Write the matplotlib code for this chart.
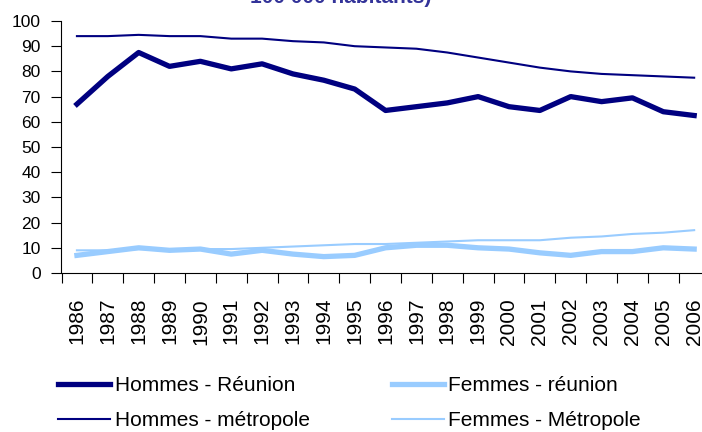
import matplotlib
matplotlib.use('Agg')
import matplotlib.pyplot as plt

plt.rcParams['font.family'] = ['Liberation Sans', 'DejaVu Sans']

# values
years = [str(y) for y in range(1986, 2007)]
hommes_reunion = [67, 78, 87.5, 82, 84, 81, 83, 79, 76.5, 73, 64.5, 66, 67.5, 70, 66, 64.5, 70, 68, 69.5, 64, 62.5]
femmes_reunion = [7, 8.5, 10, 9, 9.5, 7.5, 9, 7.5, 6.5, 7, 10, 11, 11, 10, 9.5, 8, 7, 8.5, 8.5, 10, 9.5]
hommes_metro = [94, 94, 94.5, 94, 94, 93, 93, 92, 91.5, 90, 89.5, 89, 87.5, 85.5, 83.5, 81.5, 80, 79, 78.5, 78, 77.5]
femmes_metro = [9, 9, 9.5, 9.5, 9.5, 9.5, 10, 10.5, 11, 11.5, 11.5, 12, 12.5, 13, 13, 13, 14, 14.5, 15.5, 16, 17]

navy = '#000080'
light = '#99ccff'

fig = plt.figure(figsize=(7.02, 4.32), dpi=100)
ax = fig.add_axes([61.5/702, 1 - 273/432, (709.6 - 61.5)/702, (273 - 21)/432])

x = range(len(years))
ax.plot(x, hommes_reunion, color=navy, lw=3.8, label='Hommes - Réunion', solid_joinstyle='round')
ax.plot(x, hommes_metro, color=navy, lw=1.5, label='Hommes - métropole')
ax.plot(x, femmes_reunion, color=light, lw=3.8, label='Femmes - réunion', solid_joinstyle='round')
ax.plot(x, femmes_metro, color=light, lw=1.5, label='Femmes - Métropole')

ax.set_xlim(-0.5, len(years) - 0.5)
ax.set_ylim(0, 100)
ax.set_yticks(range(0, 101, 10))
# tick marks between categories, labels centred on them
ax.set_xticks([i - 0.5 for i in range(len(years) + 1)], minor=False)
ax.set_xticklabels([])
ax.set_xticks(list(x), minor=True)
ax.set_xticklabels(years, minor=True, rotation=90, fontsize=15)
ax.tick_params(axis='x', which='major', length=7, direction='out', color='black')
ax.tick_params(axis='x', which='minor', length=0, pad=18)
ax.tick_params(axis='y', length=7, labelsize=12.5, pad=8)
for s in ['top', 'right']:
    ax.spines[s].set_visible(False)

fig.text(341/702, 1 - 3/432, '100 000 habitants)', ha='center', va='baseline',
         fontsize=15, fontweight='bold', color='#333399')

fig.legend(loc='upper left', bbox_to_anchor=(50/702, 1 - 368/432), ncol=2, frameon=False,
           fontsize=15, handlelength=2.5, handletextpad=0.2, columnspacing=3.95,
           labelspacing=0.75, borderaxespad=0)

fig.savefig('out.png', dpi=100)
